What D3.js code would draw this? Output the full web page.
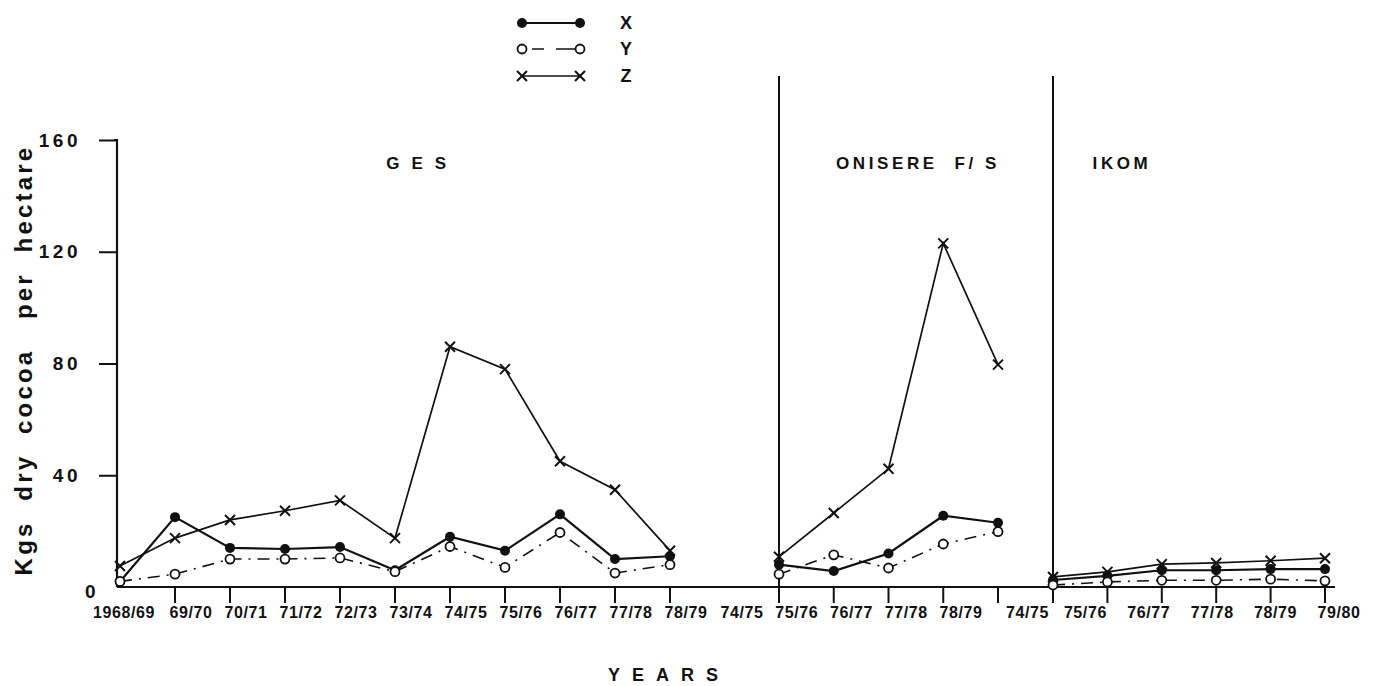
<!DOCTYPE html>
<html>
<head>
<meta charset="utf-8">
<script src="https://cdn.jsdelivr.net/npm/d3@7"></script>
<style>
  body { margin: 0; background: #fff; }
  svg { display: block; }
  text { font-family: "Liberation Sans", Arial, sans-serif; font-weight: bold; fill: #111; }
</style>
</head>
<body>
<svg id="chart" width="1375" height="686"></svg>
<script>
// ---- data ----
const gesYears = ["1968/69","69/70","70/71","71/72","72/73","73/74","74/75","75/76","76/77","77/78","78/79"];
const gesX = [2, 25, 14, 13.6, 14.3, 6, 18, 13, 26, 10, 11];
const gesY = [2, 4.6, 10, 10, 10.4, 5.5, 14.5, 7, 19.5, 5, 8];
const gesZ = [7.5, 17.5, 24, 27.3, 31, 17.5, 86, 78, 45, 34.8, 13];

const oniYears = ["74/75","75/76","76/77","77/78","78/79"];
const oniX = [8, 5.7, 12, 25.5, 23];
const oniY = [4.6, 11.5, 6.8, 15.4, 19.8];
const oniZ = [10.8, 26.5, 42.3, 123, 79.6];

const ikoYears = ["74/75","75/76","76/77","77/78","78/79","79/80"];
const ikoX = [2.5, 4, 6, 6, 6.4, 6.4];
const ikoY = [0.7, 1.8, 2.4, 2.4, 2.8, 2.2];
const ikoZ = [3.6, 5.4, 8.2, 8.6, 9.4, 10.3];

const yTicks = [0, 40, 80, 120, 160];
const seriesNames = ["X", "Y", "Z"];
const panelTitles = ["G E S", "ONISERE  F/ S", "IKOM"];

// ---- layout ----
const svg = d3.select("#chart");
const y = d3.scaleLinear().domain([0, 160]).range([587, 140]);
const axisX0 = 117;

const panels = [
  { years: gesYears, X: gesX, Y: gesY, Z: gesZ, range: [120, 670], title: panelTitles[0], titleX: 418, labelMode: "ges" },
  { years: oniYears, X: oniX, Y: oniY, Z: oniZ, range: [779, 998], title: panelTitles[1], titleX: 918, labelMode: "oni" },
  { years: ikoYears, X: ikoX, Y: ikoY, Z: ikoZ, range: [1053, 1325], title: panelTitles[2], titleX: 1122, labelMode: "iko" }
];
panels.forEach(p => { p.x = d3.scalePoint().domain(p.years).range(p.range); });

// ---- y axis ----
const yAxis = d3.axisLeft(y).tickValues(yTicks).tickSize(18).tickPadding(18).tickFormat(d3.format("d"));
const yg = svg.append("g").attr("transform", `translate(${axisX0},0)`).call(yAxis);
yg.select(".domain").attr("stroke", "#111").attr("stroke-width", 2.2).attr("d", `M0,${y(0)}V${y(160)}H-3`);
yg.selectAll(".tick line").attr("stroke", "#111").attr("stroke-width", 2);
yg.selectAll(".tick text").attr("font-size", 19).attr("letter-spacing", 3.5)
  .attr("font-family", "'Liberation Sans', Arial, sans-serif").attr("font-weight", "bold").attr("fill", "#111");
yg.selectAll(".tick").filter(d => d === 0).select("line").remove();
yg.selectAll(".tick").filter(d => d === 0).select("text").attr("x", -18).attr("dy", "0.55em");

svg.append("text").attr("transform", `translate(32,${360}) rotate(-90)`)
  .attr("text-anchor", "middle").attr("font-size", 24).attr("letter-spacing", 3.2)
  .attr("xml:space", "preserve")
  .text("Kgs  dry  cocoa   per  hectare");

// ---- x baseline ----
svg.append("line").attr("x1", axisX0).attr("x2", 1335).attr("y1", y(0)).attr("y2", y(0))
  .attr("stroke", "#111").attr("stroke-width", 2.2);

// separators
[779, 1053].forEach(sx => {
  svg.append("line").attr("x1", sx).attr("x2", sx).attr("y1", 76).attr("y2", y(0))
    .attr("stroke", "#111").attr("stroke-width", 2);
});

// ---- panels ----
const lineStyle = {
  X: { w: 2.2, dash: null },
  Y: { w: 1.6, dash: "12,7,2,7" },
  Z: { w: 1.7, dash: null }
};

function drawMarker(g, name, cx, cy) {
  if (name === "X") {
    g.append("circle").attr("cx", cx).attr("cy", cy).attr("r", 5).attr("fill", "#111");
  } else if (name === "Y") {
    g.append("circle").attr("cx", cx).attr("cy", cy).attr("r", 4.5).attr("fill", "#fff")
      .attr("stroke", "#111").attr("stroke-width", 1.8);
  } else {
    const s = 5;
    g.append("path").attr("d", `M${cx - s},${cy - s}L${cx + s},${cy + s}M${cx - s},${cy + s}L${cx + s},${cy - s}`)
      .attr("stroke", "#111").attr("stroke-width", 2).attr("fill", "none");
  }
}

panels.forEach(p => {
  const g = svg.append("g");
  // ticks down
  p.years.forEach((yr, i) => {
    if (p.labelMode === "ges" && i === 0) return;
    g.append("line").attr("x1", p.x(yr)).attr("x2", p.x(yr)).attr("y1", y(0)).attr("y2", y(0) + 16)
      .attr("stroke", "#111").attr("stroke-width", 2);
  });
  // labels
  p.years.forEach((yr, i) => {
    const t = g.append("text").attr("y", 618).attr("font-size", 16).attr("letter-spacing", 0.6)
      .attr("text-anchor", "middle").text(yr);
    const tx = p.x(yr);
    if (p.labelMode === "ges") {
      t.attr("x", i === 0 ? tx + 4 : tx + 16);
    } else if (p.labelMode === "oni") {
      t.attr("x", tx - 37);
    } else {
      if (i === 0) t.attr("x", tx - 4).attr("text-anchor", "end");
      else t.attr("x", tx - 22 + (i - 1) * 9);
    }
  });
  // series
  seriesNames.forEach(name => {
    const vals = p[name];
    const line = d3.line().x((d, i) => p.x(p.years[i])).y(d => y(d));
    const path = g.append("path").attr("d", line(vals)).attr("fill", "none")
      .attr("stroke", "#111").attr("stroke-width", lineStyle[name].w);
    if (lineStyle[name].dash) path.attr("stroke-dasharray", lineStyle[name].dash);
  });
  seriesNames.forEach(name => {
    p[name].forEach((v, i) => drawMarker(g, name, p.x(p.years[i]), y(v)));
  });
  // title
  svg.append("text").attr("x", p.titleX).attr("y", 169).attr("text-anchor", "middle")
    .attr("font-size", 17).attr("letter-spacing", 3.6).attr("xml:space", "preserve").text(p.title);
});

// ---- legend ----
const legendRows = [23, 49, 76];
seriesNames.forEach((name, i) => {
  const ly = legendRows[i];
  const lg = svg.append("g");
  const l = lg.append("line").attr("x1", 522).attr("x2", 580).attr("y1", ly).attr("y2", ly)
    .attr("stroke", "#111").attr("stroke-width", lineStyle[name].w);
  if (lineStyle[name].dash) l.attr("stroke-dasharray", "0,10,12,12,30");
  drawMarker(lg, name, 522, ly);
  drawMarker(lg, name, 580, ly);
  lg.append("text").attr("x", 626).attr("y", ly + 6).attr("text-anchor", "middle")
    .attr("font-size", 18).text(name);
});

// x title
svg.append("text").attr("x", 669).attr("y", 681).attr("text-anchor", "middle")
  .attr("font-size", 18).attr("letter-spacing", 12).text("YEARS");
</script>
</body>
</html>
